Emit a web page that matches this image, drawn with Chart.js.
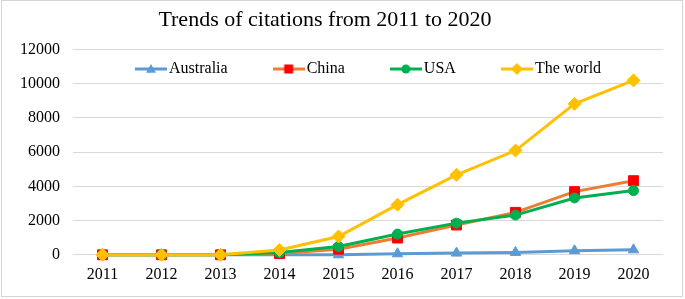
<!DOCTYPE html>
<html>
<head>
<meta charset="utf-8">
<script src="https://cdn.jsdelivr.net/npm/chart.js@4.4.1/dist/chart.umd.min.js"></script>
<style>
  html, body { margin: 0; padding: 0; background: #fff; }
</style>
</head>
<body>
<canvas id="grafico" width="685" height="299"></canvas>
<script>
// datos
const anios = ['2011', '2012', '2013', '2014', '2015', '2016', '2017', '2018', '2019', '2020']
const australia = [0, 0, 0, 0, 0, 60, 100, 140, 240, 290]
const china = [0, 0, 0, 70, 330, 980, 1740, 2480, 3690, 4330]
const usa = [0, 0, 0, 130, 480, 1210, 1850, 2320, 3320, 3750]
const mundo = [0, 0, 0, 280, 1070, 2930, 4670, 6090, 8820, 10190]
const ejeY = { min: 0, max: 12000, paso: 2000 }
const titulo = 'Trends of citations from 2011 to 2020'

const fuente = 'Liberation Serif'

// icono de leyenda: linea con marcador
const iconoLeyenda = (colorLinea, colorMarca, marca, r) => {
    const c = document.createElement('canvas')
    c.width = 32
    c.height = 14
    const ctx = c.getContext('2d')
    ctx.strokeStyle = colorLinea
    ctx.lineWidth = 3
    ctx.beginPath()
    ctx.moveTo(0, 7)
    ctx.lineTo(32, 7)
    ctx.stroke()
    ctx.fillStyle = colorMarca
    ctx.beginPath()
    if (marca == 'triangle') {
        ctx.moveTo(16, 7 - r)
        ctx.lineTo(16 + r, 7 + r * 0.75)
        ctx.lineTo(16 - r, 7 + r * 0.75)
    } else if (marca == 'rect') {
        ctx.rect(16 - r, 7 - r, 2 * r, 2 * r)
    } else if (marca == 'circle') {
        ctx.arc(16, 7, r, 0, Math.PI * 2)
    } else {
        ctx.moveTo(16, 7 - r)
        ctx.lineTo(16 + r, 7)
        ctx.lineTo(16, 7 + r)
        ctx.lineTo(16 - r, 7)
    }
    ctx.closePath()
    ctx.fill()
    return c
}

const iconos = [
    iconoLeyenda('#5B9BD5', '#5B9BD5', 'triangle', 5),
    iconoLeyenda('#ED7D31', '#FF0000', 'rect', 4.5),
    iconoLeyenda('#00B050', '#00B050', 'circle', 4.5),
    iconoLeyenda('#FFC000', '#FFC000', 'diamond', 6)
]

// leyenda encima del area del grafico, sin reservar espacio
const ajusteLeyenda = {
    id: 'ajusteLeyenda',
    beforeInit(chart) {
        const fitOriginal = chart.legend.fit
        chart.legend.fit = function () {
            fitOriginal.bind(chart.legend)()
            this.height = 0
        }
    },
    afterLayout(chart) {
        chart.legend.left = 90
        chart.legend.right = 685
        chart.legend.top = 10
        chart.legend.bottom = 100
        const t = chart.titleBlock
        const mover = 325 - (t.left + t.right) / 2
        t.left += mover
        t.right += mover
    },
    afterDraw(chart) {
        const ctx = chart.ctx
        ctx.save()
        ctx.strokeStyle = '#d4d4d4'
        ctx.lineWidth = 1
        ctx.strokeRect(1.5, 0.5, 681, 296)
        ctx.restore()
    }
}

const divGrafico = document.querySelector('#grafico')

const chart = new Chart(divGrafico, {
    type: 'line',
    data: {
        labels: anios,
        datasets: [{
            label: 'Australia',
            data: australia,
            borderColor: '#5B9BD5',
            backgroundColor: '#5B9BD5',
            pointBackgroundColor: '#5B9BD5',
            pointBorderColor: '#5B9BD5',
            pointStyle: 'triangle',
            pointRadius: 6,
            borderWidth: 3,
            order: 4
        }, {
            label: 'China',
            data: china,
            borderColor: '#ED7D31',
            backgroundColor: '#FF0000',
            pointBackgroundColor: '#FF0000',
            pointBorderColor: '#FF0000',
            pointStyle: 'rect',
            pointRadius: 7,
            borderWidth: 3,
            order: 3
        }, {
            label: 'USA',
            data: usa,
            borderColor: '#00B050',
            backgroundColor: '#00B050',
            pointBackgroundColor: '#00B050',
            pointBorderColor: '#00B050',
            pointStyle: 'circle',
            pointRadius: 5,
            borderWidth: 3,
            order: 2
        }, {
            label: 'The world',
            data: mundo,
            borderColor: '#FFC000',
            backgroundColor: '#FFC000',
            pointBackgroundColor: '#FFC000',
            pointBorderColor: '#FFC000',
            pointStyle: 'rectRot',
            pointRadius: 6.5,
            borderWidth: 3,
            order: 1
        }]
    },
    options: {
        responsive: false,
        animation: false,
        events: [],
        clip: false,
        datasets: { line: { clip: false, tension: 0, pointBorderWidth: 1 } },
        layout: { padding: { top: 0, left: 7, right: 22, bottom: 5 } },
        plugins: {
            title: {
                display: true,
                text: titulo,
                color: '#000',
                font: { family: fuente, size: 22, weight: 'normal' },
                padding: { top: 7, bottom: 16 }
            },
            legend: {
                display: true,
                align: 'start',
                labels: {
                    usePointStyle: true,
                    pointStyleWidth: 20,
                    padding: 51,
                    color: '#000',
                    font: { family: fuente, size: 16 },
                    generateLabels: (ch) => ch.data.datasets.map((ds, i) => ({
                        text: ds.label,
                        pointStyle: iconos[i],
                        fillStyle: ds.borderColor,
                        strokeStyle: ds.borderColor,
                        lineWidth: 0,
                        hidden: false,
                        fontColor: '#000',
                        datasetIndex: i
                    }))
                }
            },
            tooltip: { enabled: false }
        },
        scales: {
            x: {
                offset: true,
                grid: { display: false, drawTicks: false },
                border: { display: false },
                ticks: { color: '#000', padding: 10, font: { family: fuente, size: 16 } }
            },
            y: {
                min: ejeY.min,
                max: ejeY.max,
                grid: { color: '#d9d9d9', lineWidth: 1, drawTicks: false },
                border: { display: false },
                ticks: {
                    stepSize: ejeY.paso,
                    color: '#000',
                    padding: 13,
                    font: { family: fuente, size: 16 },
                    callback: (v) => String(v)
                }
            }
        }
    },
    plugins: [ajusteLeyenda]
})
</script>
</body>
</html>
